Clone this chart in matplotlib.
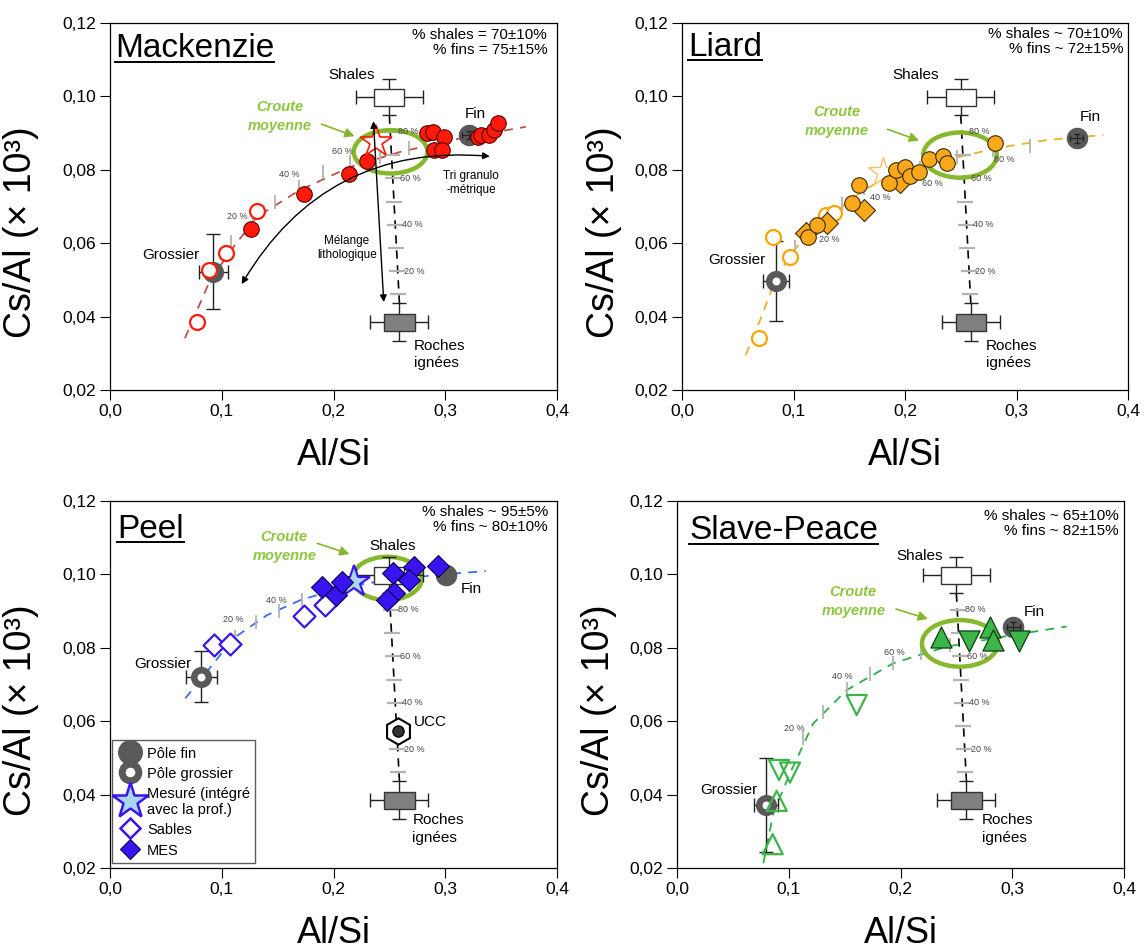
import numpy as np
import matplotlib
matplotlib.use('Agg')
import matplotlib.pyplot as plt
from matplotlib.patches import Ellipse, Rectangle, FancyArrowPatch
from matplotlib.lines import Line2D
from matplotlib.ticker import FuncFormatter, MultipleLocator

plt.rcParams['font.family'] = ['Liberation Sans', 'DejaVu Sans']

# ---- shared end-members (Al/Si, Cs/Al x 10^3) ----
shale_xy = (0.250, 0.0998)
shale_err = (0.030, 0.0050)
roche_xy = (0.259, 0.0385)
roche_err = (0.026, 0.0052)
mix_frac = [0.1, 0.2, 0.3, 0.4, 0.5, 0.6, 0.7, 0.8]
mix_lab = ['', '20 %', '', '40 %', '', '60 %', '', '80 %']
mix_y0, mix_y1 = 0.0397, 0.1030   # 0 % and 100 % shales on the mixing line

# ---- Mackenzie ----
mk_fin = (0.321, 0.0895)
mk_gros = (0.0924, 0.0522)
mk_gros_err = (0.013, 0.0102)
mk_curve_x = [0.067, 0.0897, 0.1106, 0.1316, 0.170, 0.2152, 0.260, 0.320, 0.372]
mk_curve_y = [0.0341, 0.0500, 0.0590, 0.0672, 0.0745, 0.0808, 0.0849, 0.0890, 0.0917]
mk_tick_x = [0.1085, 0.128, 0.1474, 0.1689, 0.1908, 0.2152, 0.2415, 0.2675]
mk_tick_y = [0.0604, 0.0666, 0.0713, 0.0754, 0.0795, 0.0822, 0.0836, 0.0859]
mk_sand_x = [0.0777, 0.0882, 0.1038, 0.1316]
mk_sand_y = [0.0386, 0.0527, 0.0572, 0.0689]
mk_mes_x = [0.1262, 0.1734, 0.2137, 0.2302, 0.2840, 0.2890, 0.2987, 0.2900, 0.2975,
            0.3289, 0.3318, 0.3393, 0.3435, 0.3468]
mk_mes_y = [0.0639, 0.0733, 0.0788, 0.0824, 0.0900, 0.0903, 0.0889, 0.0854, 0.0854,
            0.0890, 0.0895, 0.0895, 0.0908, 0.0927]
mk_star = (0.2377, 0.0877)

# ---- Liard ----
li_fin = (0.354, 0.0886)
li_gros = (0.0843, 0.0497)
li_gros_err = (0.0115, 0.011)
li_curve_x = [0.0571, 0.070, 0.0849, 0.1029, 0.1327, 0.1626, 0.1926, 0.2374, 0.2822, 0.327, 0.378]
li_curve_y = [0.0295, 0.0390, 0.0509, 0.0590, 0.0672, 0.0745, 0.0790, 0.0827, 0.0859, 0.0881, 0.0895]
li_tick_x = [0.1013, 0.1208, 0.1432, 0.1635, 0.1886, 0.2135, 0.2464, 0.2792, 0.3121]
li_tick_y = [0.0590, 0.0641, 0.0706, 0.0750, 0.0781, 0.0804, 0.0836, 0.0854, 0.0865]
li_sand_x = [0.0691, 0.0813, 0.0969, 0.1289, 0.1366]
li_sand_y = [0.0341, 0.0618, 0.0563, 0.0677, 0.0681]
li_mes_x = [0.1133, 0.1214, 0.1528, 0.1590, 0.1860, 0.1920, 0.2000, 0.2045, 0.2128,
            0.2215, 0.2344, 0.2374, 0.2807]
li_mes_y = [0.0618, 0.0650, 0.0710, 0.0759, 0.0763, 0.0800, 0.0808, 0.0783, 0.0795,
            0.0829, 0.0838, 0.0819, 0.0872]
li_dia_x = [0.1112, 0.1298, 0.1635, 0.1955]
li_dia_y = [0.0627, 0.0654, 0.0690, 0.0766]
li_star = (0.1805, 0.0795)

# ---- Peel ----
pe_fin = (0.3004, 0.0998)
pe_gros = (0.0816, 0.0721)
pe_gros_err = (0.014, 0.007)
pe_curve_x = [0.0673, 0.0807, 0.1106, 0.1405, 0.1704, 0.2003, 0.2302, 0.290, 0.3363]
pe_curve_y = [0.0662, 0.0712, 0.0826, 0.0889, 0.0930, 0.0957, 0.0976, 0.0998, 0.1009]
pe_tick_x = [0.0942, 0.1121, 0.1307, 0.151, 0.1719, 0.1943]
pe_tick_y = [0.0794, 0.0830, 0.0871, 0.0900, 0.0930, 0.0948]
pe_sand_x = [0.0927, 0.1076, 0.1734, 0.1928]
pe_sand_y = [0.0808, 0.0810, 0.0887, 0.0917]
pe_mes_x = [0.1898, 0.2024, 0.2078, 0.2535, 0.2720, 0.2675, 0.2541, 0.2481, 0.2936]
pe_mes_y = [0.0967, 0.0944, 0.0980, 0.1003, 0.1019, 0.0985, 0.0950, 0.0930, 0.1023]
pe_star = (0.2182, 0.0980)
pe_ucc = (0.258, 0.0574)

# ---- Slave-Peace ----
sp_fin = (0.301, 0.0858)
sp_gros = (0.0796, 0.0372)
sp_gros_err = (0.011, 0.0128)
sp_curve_x = [0.0773, 0.0862, 0.1011, 0.122, 0.1519, 0.1936, 0.2413, 0.301, 0.3487]
sp_curve_y = [0.0213, 0.0349, 0.0458, 0.0594, 0.0685, 0.0758, 0.0803, 0.0835, 0.0858]
sp_tick_x = [0.113, 0.131, 0.1519, 0.1727, 0.1936, 0.2184, 0.2443]
sp_tick_y = [0.0553, 0.0626, 0.0688, 0.0728, 0.0758, 0.0786, 0.0808]
sp_upf_x = [0.2362, 0.2801, 0.2831]
sp_upf_y = [0.0830, 0.0858, 0.0822]
sp_dnf_x = [0.2613, 0.3063]
sp_dnf_y = [0.0818, 0.0818]
sp_upo_x = [0.0892, 0.0856]
sp_upo_y = [0.0383, 0.0265]
sp_dno_x = [0.0913, 0.1011, 0.1608]
sp_dno_y = [0.0467, 0.0460, 0.0644]

GREEN = '#85b82c'
GREY = '#595959'
TICKC = '#b3b3b3'

fig = plt.figure(figsize=(11.48, 9.5), dpi=100)
W, H = 1148, 950
def add_ax(l, t, r, b):
    return fig.add_axes([l / W, 1 - b / H, (r - l) / W, (b - t) / H])

axes = [add_ax(110, 23, 557, 390), add_ax(682, 23, 1128, 390),
        add_ax(110, 501, 557, 868), add_ax(677, 501, 1124, 868)]


def base(ax, ylab_x):
    ax.set_xlim(0, 0.4)
    ax.set_ylim(0.02, 0.12)
    ax.xaxis.set_major_locator(MultipleLocator(0.1))
    ax.yaxis.set_major_locator(MultipleLocator(0.02))
    ax.xaxis.set_major_formatter(FuncFormatter(lambda v, p: f'{v:.1f}'.replace('.', ',')))
    ax.yaxis.set_major_formatter(FuncFormatter(lambda v, p: f'{v:.2f}'.replace('.', ',')))
    ax.tick_params(direction='out', length=7, width=0.8, labelsize=12.5, pad=3)
    for s in ax.spines.values():
        s.set_linewidth(0.9)
    ax.set_xlabel('Al/Si', fontsize=26)
    ax.set_ylabel('Cs/Al (× 10³)', fontsize=27)
    ax.xaxis.set_label_coords(0.5, -0.13)
    ax.yaxis.set_label_coords(ylab_x, 0.43)


def endmembers(ax, fin, gros, gros_err, fin_err=True):
    # mixing line shales - igneous rocks
    ax.plot([shale_xy[0], roche_xy[0]], [shale_xy[1] - shale_err[1], roche_xy[1] + roche_err[1]],
            color='black', ls=(0, (5, 4)), lw=1.2, zorder=1)
    f = np.array(mix_frac)
    my = mix_y0 + f * (mix_y1 - mix_y0)
    mx = roche_xy[0] + (my - roche_xy[1]) / (shale_xy[1] - roche_xy[1]) * (shale_xy[0] - roche_xy[0])
    ax.plot(mx, my, ls='none', marker='_', ms=12, mew=1.6, color=TICKC, zorder=1.5)
    for xx, yy, lab in zip(mx, my, mix_lab):
        if lab:
            ax.text(xx + 0.006, yy, lab, fontsize=6.5, color='#444', va='center', ha='left', zorder=6)
    # shales box
    ax.errorbar(*shale_xy, xerr=shale_err[0], yerr=shale_err[1], color='#222', lw=1, capsize=5, zorder=3)
    ax.add_patch(Rectangle((shale_xy[0] - 0.0135, shale_xy[1] - 0.0023), 0.027, 0.0046,
                           facecolor='white', edgecolor='#333', lw=1, zorder=3.5))
    ax.errorbar(*roche_xy, xerr=roche_err[0], yerr=roche_err[1], color='#222', lw=1, capsize=5, zorder=3)
    ax.add_patch(Rectangle((roche_xy[0] - 0.0135, roche_xy[1] - 0.0023), 0.027, 0.0046,
                           facecolor='#808080', edgecolor='#333', lw=1, zorder=3.5))
    # coarse and fine poles
    ax.plot(*fin, marker='o', ms=14.5, color=GREY, mec=GREY, zorder=3)
    if fin_err:
        ax.errorbar(*fin, xerr=0.006, yerr=0.0012, color='#222', lw=0.8, capsize=2, zorder=3.2)
    ax.errorbar(*gros, xerr=gros_err[0], yerr=gros_err[1], color='#222', lw=1, capsize=5, zorder=3)
    ax.plot(*gros, marker='o', ms=10.5, mfc='white', mec=GREY, mew=4.7, zorder=3.1)


def curve(ax, cx, cy, tx, ty, color, labels):
    ax.plot(cx, cy, color=color, ls=(0, (5, 4)), lw=1.3, zorder=1)
    ax.plot(tx, ty, ls='none', marker='|', ms=10, mew=1.3, color=TICKC, zorder=1.5)
    for (lx, ly, lab) in labels:
        ax.text(lx, ly, lab, fontsize=6.5, color='#444', ha='center', va='center', zorder=6)


def croute(ax, ell, txt, a0, a1):
    ax.add_patch(Ellipse(ell[0], ell[1], ell[2], fill=False, edgecolor=GREEN, lw=3.2, zorder=2))
    ax.text(*txt, 'Croute\nmoyenne', color='#8cc63f', fontsize=10.5, fontweight='bold',
            fontstyle='italic', ha='center', va='center', linespacing=1.45, zorder=6)
    ax.annotate('', xy=a1, xytext=a0,
                arrowprops=dict(arrowstyle='-|>', color=GREEN, lw=1.2, mutation_scale=14), zorder=6)


def labels(ax, shales, fin, gros, roche):
    kw = dict(fontsize=11, ha='center', va='center', zorder=6)
    ax.text(*shales, 'Shales', **kw)
    ax.text(*fin, 'Fin', **kw)
    ax.text(*gros, 'Grossier', **kw)
    ax.text(*roche, 'Roches\nignées', fontsize=11, ha='left', va='top', linespacing=1.35, zorder=6)


titles = []
def header(ax, name, base_y, x0, stats, sx, sy):
    t = ax.text(x0, base_y, name, transform=ax.transAxes, fontsize=24, ha='left', va='baseline')
    titles.append((ax, t, base_y))
    ax.text(sx, sy, stats, transform=ax.transAxes, fontsize=11, ha='right', va='top',
            linespacing=1.1, multialignment='right')


# ================= Mackenzie =================
ax = axes[0]
base(ax, -0.158)
endmembers(ax, mk_fin, mk_gros, mk_gros_err)
curve(ax, mk_curve_x, mk_curve_y, mk_tick_x, mk_tick_y, '#c0504d',
      [(0.114, 0.0674, '20 %'), (0.1605, 0.0786, '40 %'), (0.208, 0.0851, '60 %')])
croute(ax, ((0.2511, 0.0849), 0.066, 0.0118), (0.1516, 0.0944), (0.1868, 0.0927), (0.2212, 0.0889))
ax.scatter(mk_sand_x, mk_sand_y, s=115, facecolor='white', edgecolor='#ff1a0a', lw=1.6, zorder=4)
ax.scatter(mk_mes_x, mk_mes_y, s=125, facecolor='#ff1a0a', edgecolor='#5a0000', lw=0.8, zorder=4)
ax.plot(*mk_star, marker='*', ms=24, mfc='none', mec='#ff1a0a', mew=1.2, zorder=4)
ax.add_patch(FancyArrowPatch((0.2356, 0.094), (0.2451, 0.0432), arrowstyle='<|-|>',
                             mutation_scale=10, color='black', lw=1, zorder=5))
ax.add_patch(FancyArrowPatch((0.1166, 0.0482), (0.3423, 0.0836), arrowstyle='<|-|>',
                             connectionstyle='arc3,rad=-0.32', mutation_scale=10,
                             color='black', lw=1, zorder=5))
ax.text(0.212, 0.0586, 'Mélange\nlithologique', fontsize=8.5, ha='center', va='center', zorder=6)
ax.text(0.323, 0.0764, 'Tri granulo\n-métrique', fontsize=8.5, ha='center', va='center', zorder=6)
labels(ax, (0.216, 0.1057), (0.327, 0.0952), (0.0544, 0.0568), (0.272, 0.0340))
header(ax, 'Mackenzie', 0.907, 0.011, '% shales = 70±10%\n% fins = 75±15%', 0.978, 0.986)

# ================= Liard =================
ax = axes[1]
base(ax, -0.135)
endmembers(ax, li_fin, li_gros, li_gros_err)
curve(ax, li_curve_x, li_curve_y, li_tick_x, li_tick_y, '#e8b32a',
      [(0.1318, 0.0611, '20 %'), (0.1776, 0.0724, '40 %'), (0.2245, 0.0763, '60 %'),
       (0.2888, 0.0829, '80 %')])
croute(ax, ((0.2493, 0.0840), 0.066, 0.0123), (0.1387, 0.0931), (0.182, 0.0913), (0.215, 0.0877))
ax.scatter(li_sand_x, li_sand_y, s=115, facecolor='white', edgecolor='#f7a600', lw=1.6, zorder=4)
ax.plot(*li_star, marker='*', ms=22, mfc='none', mec='#f9c060', mew=1.0, zorder=4)
ax.scatter(li_dia_x, li_dia_y, s=125, marker='D', facecolor='#f9a81b', edgecolor='#3a2a00', lw=0.8, zorder=4)
ax.scatter(li_mes_x, li_mes_y, s=125, facecolor='#f9a81b', edgecolor='#3a2a00', lw=0.8, zorder=4)
labels(ax, (0.2092, 0.1058), (0.366, 0.0945), (0.049, 0.0554), (0.2726, 0.0340))
header(ax, 'Liard', 0.910, 0.013, '% shales ~ 70±10%\n% fins ~ 72±15%', 0.989, 0.99)

# ================= Peel =================
ax = axes[2]
base(ax, -0.158)
endmembers(ax, pe_fin, pe_gros, pe_gros_err, fin_err=False)
curve(ax, pe_curve_x, pe_curve_y, pe_tick_x, pe_tick_y, '#3d6cf2',
      [(0.1106, 0.0876, '20 %'), (0.1486, 0.0930, '40 %')])
croute(ax, ((0.2481, 0.0989), 0.062, 0.0118), (0.156, 0.1076), (0.1832, 0.1087), (0.2167, 0.1053))
ax.plot(*pe_ucc, marker='h', ms=19, mfc='white', mec='black', mew=1.5, zorder=4)
ax.plot(*pe_ucc, marker='o', ms=8, mfc='#333', mec='black', zorder=4.1)
ax.text(0.2864, 0.0599, 'UCC', fontsize=11, ha='center', va='center')
ax.scatter(pe_sand_x, pe_sand_y, s=125, marker='D', facecolor='white', edgecolor='#3a14f0', lw=1.6, zorder=4)
ax.plot(*pe_star, marker='*', ms=24, mfc='#a8d6ef', mec='#3a14f0', mew=1.5, zorder=4)
ax.scatter(pe_mes_x, pe_mes_y, s=125, marker='D', facecolor='#3a14f0', edgecolor='#10004a', lw=0.8, zorder=4.2)
labels(ax, (0.2526, 0.1078), (0.3229, 0.0960), (0.047, 0.0756), (0.2706, 0.0350))
header(ax, 'Peel', 0.899, 0.016, '% shales ~ 95±5%\n% fins ~ 80±10%', 0.98, 0.99)
handles = [Line2D([], [], ls='none', marker='o', ms=17, color=GREY),
           Line2D([], [], ls='none', marker='o', ms=12, mfc='white', mec=GREY, mew=5),
           Line2D([], [], ls='none', marker='*', ms=27, mfc='#a8d6ef', mec='#3a14f0', mew=1.8),
           Line2D([], [], ls='none', marker='D', ms=10, mfc='white', mec='#3a14f0', mew=1.8),
           Line2D([], [], ls='none', marker='D', ms=10, mfc='#3a14f0', mec='#10004a', mew=0.8)]
leg = ax.legend(handles, ['Pôle fin', 'Pôle grossier', 'Mesuré (intégré\navec la prof.)', 'Sables', 'MES'],
                loc='lower left', bbox_to_anchor=(0.0, 0.008), fontsize=10.5, frameon=True,
                fancybox=False, edgecolor='#333', borderaxespad=0.15, handletextpad=0.35,
                labelspacing=0.35, handlelength=1.7, borderpad=0.35, handleheight=1.2)
leg.get_frame().set_linewidth(1.0)

# ================= Slave-Peace =================
ax = axes[3]
base(ax, -0.135)
endmembers(ax, sp_fin, sp_gros, sp_gros_err)
curve(ax, sp_curve_x, sp_curve_y, sp_tick_x, sp_tick_y, '#2bb04a',
      [(0.1047, 0.0580, '20 %'), (0.1479, 0.0723, '40 %'), (0.1945, 0.0787, '60 %')])
croute(ax, ((0.2532, 0.0812), 0.068, 0.0127), (0.1578, 0.0926), (0.1936, 0.0908), (0.227, 0.0876))
ax.scatter(sp_upo_x, sp_upo_y, s=210, marker='^', facecolor='none', edgecolor='#3cb54a', lw=1.6, zorder=4)
ax.scatter(sp_dno_x, sp_dno_y, s=210, marker='v', facecolor='none', edgecolor='#3cb54a', lw=1.6, zorder=4)
ax.scatter(sp_upf_x, sp_upf_y, s=230, marker='^', facecolor='#3cb54a', edgecolor='#0d3d10', lw=0.9, zorder=4)
ax.scatter(sp_dnf_x, sp_dnf_y, s=230, marker='v', facecolor='#3cb54a', edgecolor='#0d3d10', lw=0.9, zorder=4)
labels(ax, (0.2168, 0.1050), (0.3195, 0.0897), (0.0465, 0.0413), (0.2726, 0.0350))
header(ax, 'Slave-Peace', 0.896, 0.027, '% shales ~ 65±10%\n% fins ~ 82±15%', 0.989, 0.978)

# underline the river names
fig.canvas.draw()
r = fig.canvas.get_renderer()
for ax, t, by in titles:
    bb = t.get_window_extent(r).transformed(ax.transAxes.inverted())
    ax.plot([bb.x0, bb.x1], [by - 0.012, by - 0.012], transform=ax.transAxes,
            color='black', lw=1.4, clip_on=False)

fig.savefig('out.png', dpi=100)
